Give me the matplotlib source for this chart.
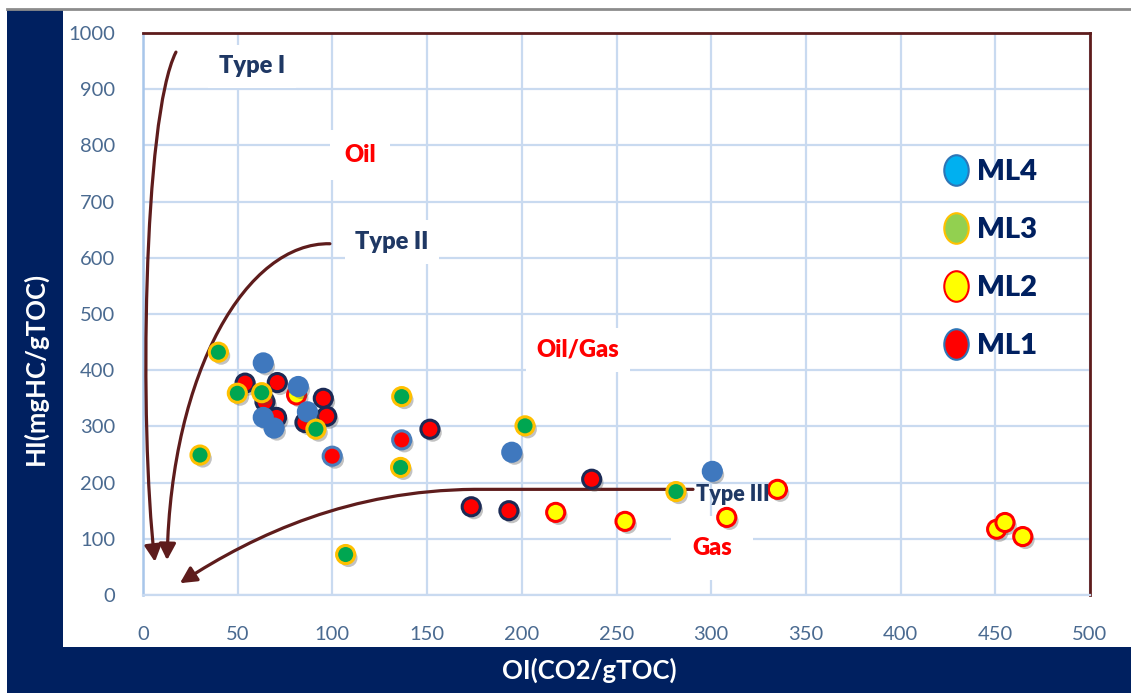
import matplotlib.pyplot as plt
import matplotlib.patheffects as pe
from matplotlib.patches import Rectangle, FancyArrowPatch
from matplotlib.lines import Line2D
from matplotlib.path import Path

plt.rcParams['font.family'] = ['Lato', 'DejaVu Sans']

# Oxygen index (x) and hydrogen index (y) for each sample group
ml4_oi = [63.5, 82.0, 86.8, 63.5, 69.2, 194.7, 300.6]
ml4_hi = [413, 371, 326, 316, 297, 254, 220]

ml3_oi = [39.8, 49.8, 62.7, 91.3, 136.6, 136.0, 30.1, 201.7, 107.0, 281.4]
ml3_hi = [432, 359, 360, 295, 353, 227, 249, 301, 72, 184]

ml2_oi = [81.1, 217.9, 254.5, 308.2, 335.0, 450.7, 455.1, 464.5]
ml2_hi = [356, 147, 131, 138, 188, 117, 129, 104]

ml1_oi = [53.9, 64.4, 70.9, 95.2, 97.0, 85.5, 70.5, 151.5, 173.3, 193.2, 236.9]
ml1_hi = [377, 344, 378, 350, 318, 307, 316, 295, 157, 150, 206]
# ML1 samples plotted with the lighter outline
ml1b_oi = [136.6, 99.9]
ml1b_hi = [276, 247]

legend_labels = ['ML4', 'ML3', 'ML2', 'ML1']

# kerogen type evolution paths (control points in OI/HI units)
type1_path = [(17.4, 966), (0, 850), (-2, 300), (6.3, 59)]
type2_path = [(98.7, 625), (55, 628), (15, 400), (12.7, 62)]
type3_path = [(290.4, 188), (175, 188), (110, 186), (60, 110), (19.5, 21)]

NAVY = '#002060'
BROWN = '#5E1C1C'
GRID = '#C9DAF0'
TEXT_NAVY = '#1F3864'

W, H = 1131, 693
fig = plt.figure(figsize=(W / 100, H / 100), dpi=100)

# dark frame around the chart
fig.patches.append(Rectangle((7 / W, 0), 56 / W, 1 - 9 / H, transform=fig.transFigure,
                             facecolor=NAVY, edgecolor='none', zorder=0))
fig.patches.append(Rectangle((7 / W, 0), 1 - 7 / W, 46 / H, transform=fig.transFigure,
                             facecolor=NAVY, edgecolor='none', zorder=0))
fig.lines.append(Line2D([7 / W, 1], [1 - 8.5 / H] * 2, transform=fig.transFigure,
                        color='#8C8C8C', lw=2))

ax = fig.add_axes([143 / W, 1 - 595 / H, 947 / W, 562 / H])
ax.set_xlim(0, 500)
ax.set_ylim(0, 1000)
ax.set_xticks(range(0, 501, 50))
ax.set_yticks(range(0, 1001, 100))
ax.tick_params(length=0, labelsize=14.5, labelcolor='#4A6A90')
ax.tick_params(axis='y', pad=20)
ax.tick_params(axis='x', pad=22)
ax.grid(True, color=GRID, lw=1.6)
ax.set_axisbelow(True)
for side in ('top', 'right'):
    ax.spines[side].set_color(BROWN)
    ax.spines[side].set_linewidth(2)
ax.spines['left'].set_color('#A8C6EA')
ax.spines['left'].set_linewidth(1.8)
ax.spines['bottom'].set_color(GRID)
ax.spines['bottom'].set_linewidth(1.6)

fig.text(35 / W, 1 - 368 / H, 'HI(mgHC/gTOC)', rotation=90, color='white',
         fontsize=18.5, weight='bold', ha='center', va='center')
fig.text(589 / W, 1 - 670 / H, 'OI(CO2/gTOC)', color='white',
         fontsize=18.5, weight='bold', ha='center', va='center')


def curve(points):
    if len(points) == 4:
        codes = [Path.MOVETO, Path.CURVE4, Path.CURVE4, Path.CURVE4]
    else:
        codes = [Path.MOVETO, Path.LINETO, Path.CURVE4, Path.CURVE4, Path.CURVE4]
    return Path(points, codes)


for pts in (type1_path, type2_path, type3_path):
    arrow = FancyArrowPatch(path=curve(pts),
                            arrowstyle='-|>,head_length=0.7,head_width=0.36',
                            mutation_scale=14, lw=2.3, color=BROWN,
                            zorder=3, clip_on=False)
    ax.add_patch(arrow)

# region / type annotations
box = dict(facecolor='white', edgecolor='none', boxstyle='square,pad=0.45')
ax.text(57.5, 941, 'Type I', color=TEXT_NAVY, fontsize=17, weight='heavy',
        ha='center', va='center', bbox=box, zorder=2)
ax.text(114.6, 783, 'Oil', color='#FF0000', fontsize=17, weight='heavy',
        ha='center', va='center', zorder=2,
        bbox=dict(facecolor='white', edgecolor='none', boxstyle='square,pad=0.6'))
ax.text(131.5, 628, 'Type II', color=TEXT_NAVY, fontsize=17, weight='heavy',
        ha='center', va='center', bbox=box, zorder=2)
ax.text(229.7, 436, 'Oil/Gas', color='#FF0000', fontsize=17, weight='heavy',
        ha='center', va='center', bbox=box, zorder=2)
ax.text(311.5, 178, 'Type III', color=TEXT_NAVY, fontsize=15.5, weight='heavy',
        ha='center', va='center', zorder=5)
ax.text(300.4, 84, 'Gas', color='#FF0000', fontsize=17, weight='heavy',
        ha='center', va='center', zorder=2,
        bbox=dict(facecolor='white', edgecolor='none', boxstyle='square,pad=0.9'))

shadow = [pe.SimplePatchShadow(offset=(2, -2.5), shadow_rgbFace='#505050', alpha=0.35),
          pe.Normal()]
kw = dict(s=170, linewidths=2.2, zorder=4)

ax.scatter(ml1_oi, ml1_hi, c='#FF0000', edgecolors='#1B2A55', **kw).set_path_effects(shadow)
ax.scatter(ml1b_oi, ml1b_hi, c='#FF0000', edgecolors='#4A7EBB', **kw).set_path_effects(shadow)
ax.scatter(ml2_oi, ml2_hi, c='#FFFF00', edgecolors='#FF0000', **kw).set_path_effects(shadow)
ax.scatter(ml4_oi, ml4_hi, c='#3F78BE', edgecolors='#3F78BE', **kw).set_path_effects(shadow)
ax.scatter(ml3_oi, ml3_hi, c='#00A651', edgecolors='#FFC000', **kw).set_path_effects(shadow)

# legend with oval markers
circle = Path.unit_circle()
oval = Path(circle.vertices * [0.8, 1.0], circle.codes)
legend_faces = ['#00B0F0', '#92D050', '#FFFF00', '#FF0000']
legend_edges = ['#2E75B6', '#FFC000', '#FF0000', '#2E75B6']
handles = [Line2D([], [], ls='none', marker=oval, markersize=22,
                  markerfacecolor=f, markeredgecolor=e, markeredgewidth=1.5)
           for f, e in zip(legend_faces, legend_edges)]
leg = fig.legend(handles, legend_labels, loc='center left',
                 bbox_to_anchor=(942 / W, 1 - 259 / H), frameon=False,
                 prop=dict(size=21, weight='heavy'), labelcolor=NAVY,
                 handlelength=0.95, handletextpad=0.25, labelspacing=1.1,
                 borderpad=0, borderaxespad=0)

fig.savefig('out.png', dpi=100)
